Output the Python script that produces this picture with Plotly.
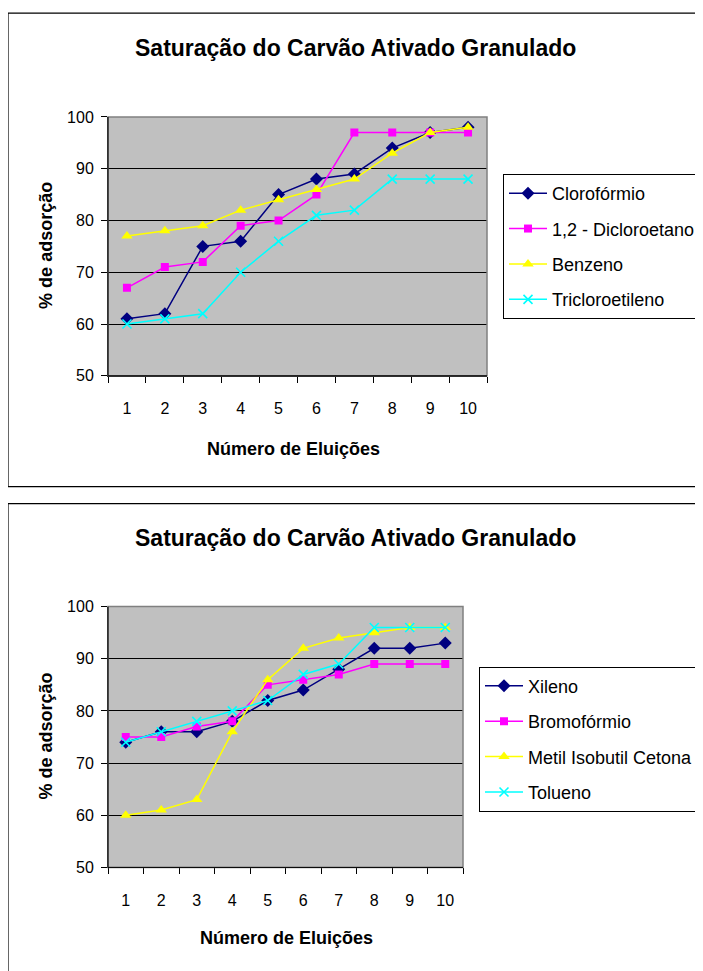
import plotly.graph_objects as go

# page body has an 8px margin: figure is placed at (8, 8) in the window
OFF = 8
W, H = 703 - OFF, 971 - OFF

eluicoes = [1, 2, 3, 4, 5, 6, 7, 8, 9, 10]
tick_labels = ["1", "2", "3", "4", "5", "6", "7", "8", "9", "10"]

# Chart 1
cloroformio = [61, 62, 75, 76, 85, 88, 89, 94, 97, 98]
dicloroetano = [67, 71, 72, 79, 80, 85, 97, 97, 97, 97]
benzeno = [77, 78, 79, 82, 84, 86, 88, 93, 97, 98]
tricloroetileno = [60, 61, 62, 70, 76, 81, 82, 88, 88, 88]

# Chart 2
xileno = [74, 76, 76, 78, 82, 84, 88, 92, 92, 93]
bromoformio = [75, 75, 77, 78, 85, 86, 87, 89, 89, 89]
metil_isobutil_cetona = [60, 61, 63, 76, 86, 92, 94, 95, 96, 96]
tolueno = [74, 76, 78, 80, 82, 87, 89, 96, 96, 96]

title_text = "Saturação do Carvão Ativado Granulado"
ytitle = "% de adsorção"
xtitle = "Número de Eluições"

FONT = "Liberation Sans, Arial, sans-serif"

def px(x):
    return (x - OFF) / W

def py(y):
    y = y - OFF - 7.2 + 0.0172 * y
    return 1 - y / H

styles = [
    dict(color="#000080", symbol="diamond", size=10),
    dict(color="#FF00FF", symbol="square", size=8),
    dict(color="#FFFF00", symbol="triangle-up", size=10),
    dict(color="#00FFFF", symbol="x-thin", size=9),
]

fig = go.Figure()

def add_series(names, values, xa, ya, legend):
    for i, (n, v) in enumerate(zip(names, values)):
        s = styles[i]
        marker = dict(color=s["color"], symbol=s["symbol"], size=s["size"])
        if s["symbol"] == "x-thin":
            marker["line"] = dict(color=s["color"], width=1.6)
        fig.add_trace(go.Scatter(
            x=eluicoes, y=v, name=n, mode="lines+markers",
            line=dict(color=s["color"], width=1.5),
            marker=marker, xaxis=xa, yaxis=ya, legend=legend,
            legendgroup=legend + str(i),
        ))

add_series(["Clorofórmio", "1,2 - Dicloroetano", "Benzeno", "Tricloroetileno"],
           [cloroformio, dicloroetano, benzeno, tricloroetileno], "x", "y", "legend")
add_series(["Xileno", "Bromofórmio", "Metil Isobutil Cetona", "Tolueno"],
           [xileno, bromoformio, metil_isobutil_cetona, tolueno], "x2", "y2", "legend2")

def xaxis_cfg(x0, x1):
    return dict(
        domain=[px(x0), px(x1)], range=[0.5, 10.5],
        tickvals=eluicoes, ticktext=tick_labels, ticks="",
        ticklabelstandoff=18,
        showgrid=False, zeroline=False, showline=True, linecolor="black", linewidth=1,
        tickfont=dict(family=FONT, size=16, color="black"),
        minor=dict(tickvals=[k + 0.5 for k in range(0, 11)], ticks="outside",
                   ticklen=6, tickcolor="black", showgrid=False),
        fixedrange=True,
    )

def yaxis_cfg(y0, y1, anchor):
    return dict(
        domain=[py(y1), py(y0)], range=[50, 100], dtick=10, tick0=50,
        ticks="outside", ticklen=6, tickcolor="black", ticklabelstandoff=4,
        showgrid=True, gridcolor="black", gridwidth=1, zeroline=False,
        showline=True, linecolor="black", linewidth=1,
        tickfont=dict(family=FONT, size=16, color="black"),
        anchor=anchor, fixedrange=True,
    )

top_plot = (108, 116, 487, 375)
bot_plot = (108, 606, 463, 867)

shapes = [
    dict(type="rect", xref="paper", yref="paper", x0=px(8), x1=px(730),
         y0=py(486), y1=py(12), line=dict(color="black", width=1.2), layer="below"),
    dict(type="rect", xref="paper", yref="paper", x0=px(8), x1=px(730),
         y0=py(1000), y1=py(503), line=dict(color="black", width=1.2), layer="below"),
    dict(type="rect", xref="x domain", yref="y domain", x0=0, x1=1, y0=0, y1=1,
         line=dict(color="#808080", width=1.5), layer="above"),
    dict(type="rect", xref="x2 domain", yref="y2 domain", x0=0, x1=1, y0=0, y1=1,
         line=dict(color="#808080", width=1.5), layer="above"),
    dict(type="line", xref="x domain", yref="y domain", x0=0, x1=0, y0=0, y1=1,
         line=dict(color="black", width=1), layer="above"),
    dict(type="line", xref="x domain", yref="y domain", x0=0, x1=1, y0=0, y1=0,
         line=dict(color="black", width=1), layer="above"),
    dict(type="line", xref="x2 domain", yref="y2 domain", x0=0, x1=0, y0=0, y1=1,
         line=dict(color="black", width=1), layer="above"),
    dict(type="line", xref="x2 domain", yref="y2 domain", x0=0, x1=1, y0=0, y1=0,
         line=dict(color="black", width=1), layer="above"),
]

def ann(text, x, y, size, bold=True, angle=0):
    return dict(text=text, x=px(x), y=py(y), xref="paper", yref="paper",
                showarrow=False, xanchor="center", yanchor="middle", textangle=angle,
                font=dict(family=FONT, size=size, color="black",
                          weight="bold" if bold else "normal"))

annotations = [
    ann(title_text, 356, 47, 23),
    ann(title_text, 356, 537, 23),
    ann(ytitle, 46, 245, 18, angle=-90),
    ann(ytitle, 46, 736, 18, angle=-90),
    ann(xtitle, 293, 448, 18),
    ann(xtitle, 286, 938, 18),
]

legend_common = dict(
    bgcolor="white", bordercolor="black", borderwidth=1,
    font=dict(family=FONT, size=18, color="black"),
    xanchor="left", yanchor="top", tracegroupgap=9, itemwidth=38,
    entrywidth=240, entrywidthmode="pixels",
)

fig.update_layout(
    width=W, height=H, margin=dict(l=0, r=0, t=0, b=0),
    paper_bgcolor="white", plot_bgcolor="#C0C0C0",
    xaxis=xaxis_cfg(top_plot[0], top_plot[2]) | dict(anchor="y"),
    yaxis=yaxis_cfg(top_plot[1], top_plot[3], "x"),
    xaxis2=xaxis_cfg(bot_plot[0], bot_plot[2]) | dict(anchor="y2"),
    yaxis2=yaxis_cfg(bot_plot[1], bot_plot[3], "x2"),
    legend=legend_common | dict(x=px(503), y=py(173)),
    legend2=legend_common | dict(x=px(479), y=py(666)),
    shapes=shapes, annotations=annotations, showlegend=True,
)

fig.write_html("out.html")
